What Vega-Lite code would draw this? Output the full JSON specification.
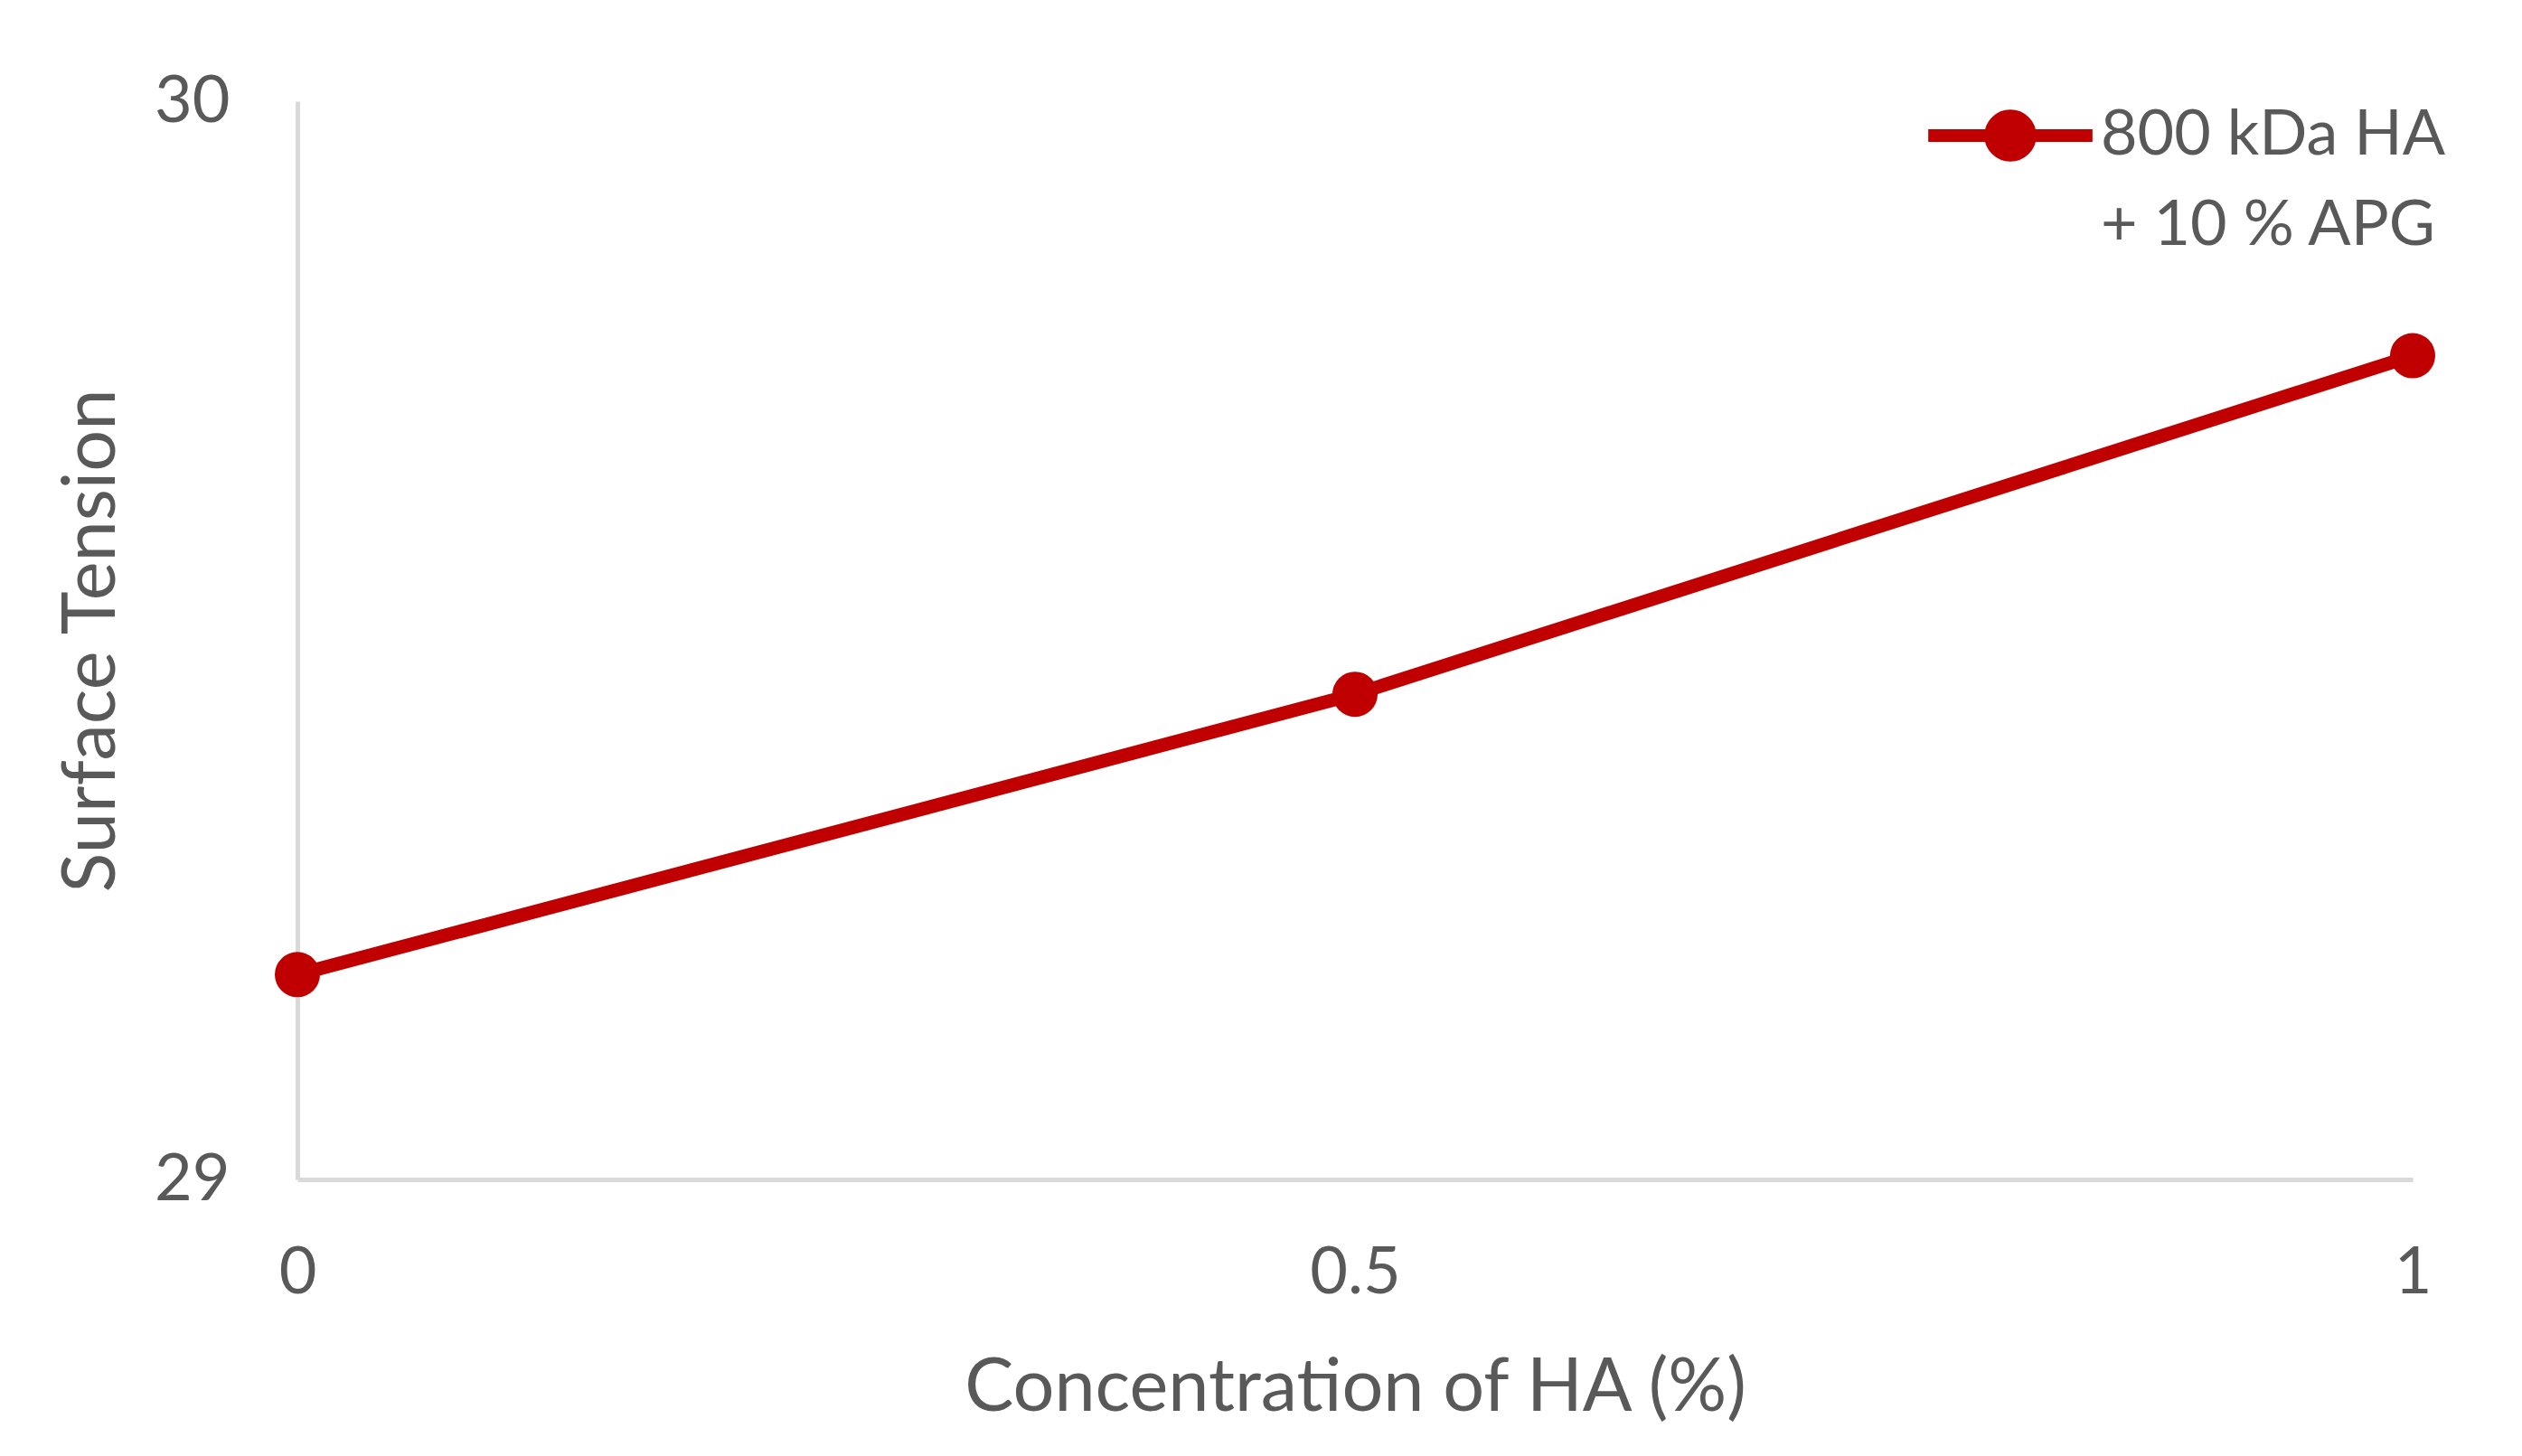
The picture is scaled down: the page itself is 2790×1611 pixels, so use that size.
{
  "$schema": "https://vega.github.io/schema/vega-lite/v6.json",
  "autosize": {"type": "none"},
  "width": 2340,
  "height": 1193,
  "padding": {"left": 329, "top": 112, "right": 121, "bottom": 306},
  "background": "white",
  "config": {
    "view": {"stroke": null},
    "font": "Lato",
    "axis": {"labelColor": "#595959", "titleColor": "#595959", "labelFont": "Lato", "titleFont": "Lato", "titleFontWeight": "normal", "grid": false, "ticks": false, "domainColor": "#d9d9d9", "domainWidth": 5, "format": "~g"}
  },
  "data": {"values": [
    {"conc": 0, "tension": 29.19, "series": "800 kDa HA|+ 10 % APG"},
    {"conc": 0.5, "tension": 29.45, "series": "800 kDa HA|+ 10 % APG"},
    {"conc": 1, "tension": 29.764, "series": "800 kDa HA|+ 10 % APG"}
  ]},
  "mark": {"type": "line", "strokeWidth": 15, "point": {"size": 2500, "filled": true, "opacity": 1}},
  "encoding": {
    "x": {"field": "conc", "type": "quantitative", "scale": {"domain": [0, 1], "nice": false, "zero": false},
      "axis": {"values": [0, 0.5, 1], "format": "~g", "title": "Concentration of HA (%)", "labelFontSize": 72, "labelPadding": 68, "titleFontSize": 81, "titlePadding": 52, "labelFlush": false}},
    "y": {"field": "tension", "type": "quantitative", "scale": {"domain": [29, 30], "nice": false, "zero": false},
      "axis": {"values": [29, 30], "format": "~g", "title": "Surface Tension", "labelFontSize": 72, "labelPadding": 75, "titleFontSize": 81, "titlePadding": 27, "labelFlush": false}},
    "color": {"field": "series", "type": "nominal", "scale": {"range": ["#c00000"]},
      "legend": {"title": null, "orient": "none", "legendX": 1797, "legendY": -60, "labelExpr": "split(datum.label, '|')", "labelFontSize": 70, "labelColor": "#595959", "labelFont": "Lato", "labelLimit": 800, "labelBaseline": "middle", "labelOffset": 2,
        "symbolType": "M-1,0L1,0M0.24,0A0.24,0.24 0 1,1 -0.24,0A0.24,0.24 0 1,1 0.24,0Z", "symbolSize": 33000, "symbolStrokeWidth": 14, "symbolFillColor": "#c00000", "symbolStrokeColor": "#c00000", "symbolOpacity": 1,
        "encode": {"labels": {"update": {"lineHeight": {"value": 100}, "dy": {"value": 0}}}}}}
  }
}
